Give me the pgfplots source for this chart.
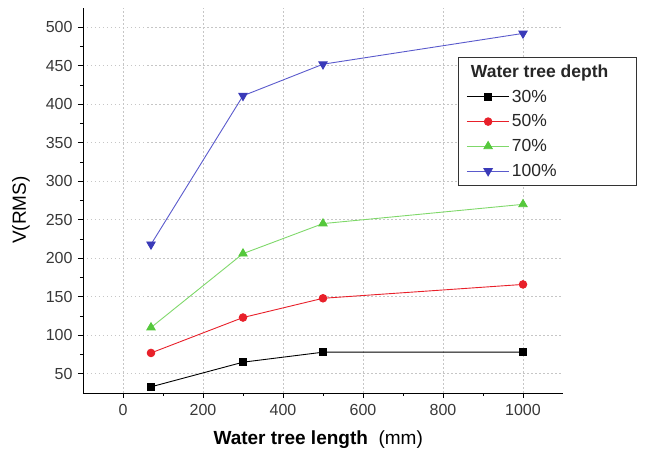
\documentclass[border=0pt]{standalone}
\usepackage{fontspec}
\setmainfont{Liberation Sans}
\usepackage{pgfplots}
\pgfplotsset{compat=1.18}
\definecolor{cred}{HTML}{E8202A}
\definecolor{cgreen}{HTML}{55C83C}
\definecolor{cgreenl}{HTML}{7FD86A}
\definecolor{cblue}{HTML}{3A3AB8}
\definecolor{cbluel}{HTML}{5A5ACC}
\begin{document}
\begin{tikzpicture}
\begin{axis}[
  name=ax,
  scale only axis,
  width=480pt, height=385pt,
  xmin=-100, xmax=1100,
  ymin=25, ymax=525,
  axis lines*=left,
  xtick={0,200,...,1000},
  ytick={50,100,...,500},
  minor x tick num=1,
  minor y tick num=1,
  tick align=outside,
  major tick length=5pt,
  minor tick length=3pt,
  tick style={black, line width=0.6pt},
  axis line style={black, line width=0.8pt},
  grid=major,
  grid style={dash pattern=on 1.5pt off 2.5pt, gray!45, line width=0.6pt},
  /pgf/number format/assume math mode=true,
  /pgf/number format/1000 sep={},
  ticklabel style={font=\fontsize{16}{18}\selectfont, text=black!78},
  xticklabel style={yshift=-3pt},
  yticklabel style={xshift=-2pt},
  xlabel={\textbf{Water tree length}\ \ (mm)},
  ylabel={V(RMS)},
  every axis x label/.style={at={(rel axis cs:0.49,0)}, anchor=center, yshift=-47pt, font=\fontsize{19}{22}\selectfont},
  every axis y label/.style={at={(rel axis cs:0,0.475)}, anchor=center, rotate=90, yshift=62pt, font=\fontsize{19}{22}\selectfont},
  legend style={at={(rel axis cs:0.781,0.873)}, anchor=north west, draw=black!80, line width=0.9pt,
    font=\fontsize{17.5}{20}\selectfont, inner xsep=8pt, inner ysep=5.5pt, row sep=7pt,
    text=black!85},
  legend cell align=left,
  legend image code/.code={\draw[mark repeat=2,mark phase=2] plot coordinates {(0cm,0cm)(0.75cm,0cm)(1.5cm,0cm)};},
]
\addlegendimage{empty legend}
\addlegendentry{\hspace*{-41pt}\textbf{Water tree depth}\hspace*{18pt}}
\addplot[black, line width=0.9pt, mark=square*, mark size=3.6pt, mark options={solid, fill=black}]
  coordinates {(70,33) (300,65) (500,78) (1000,78)};
\addlegendentry{30\%}
\addplot[cred, line width=0.9pt, mark=*, mark size=3.8pt, mark options={solid, fill=cred, draw=cred}]
  coordinates {(70,77) (300,123) (500,148) (1000,166)};
\addlegendentry{50\%}
\addplot[cgreenl, line width=0.9pt, mark=triangle*, mark size=4.8pt, mark options={solid, fill=cgreen, draw=cgreen}]
  coordinates {(70,110) (300,206) (500,245) (1000,270)};
\addlegendentry{70\%}
\addplot[cbluel, line width=0.9pt, mark=triangle*, mark size=4.8pt, mark options={solid, rotate=180, fill=cblue, draw=cblue}]
  coordinates {(70,218) (300,411) (500,452) (1000,492)};
\addlegendentry{100\%}
\end{axis}
\path[use as bounding box] ([shift={(-83pt,-66pt)}]ax.south west) rectangle ([shift={(82pt,8pt)}]ax.north east);
\end{tikzpicture}
\end{document}
